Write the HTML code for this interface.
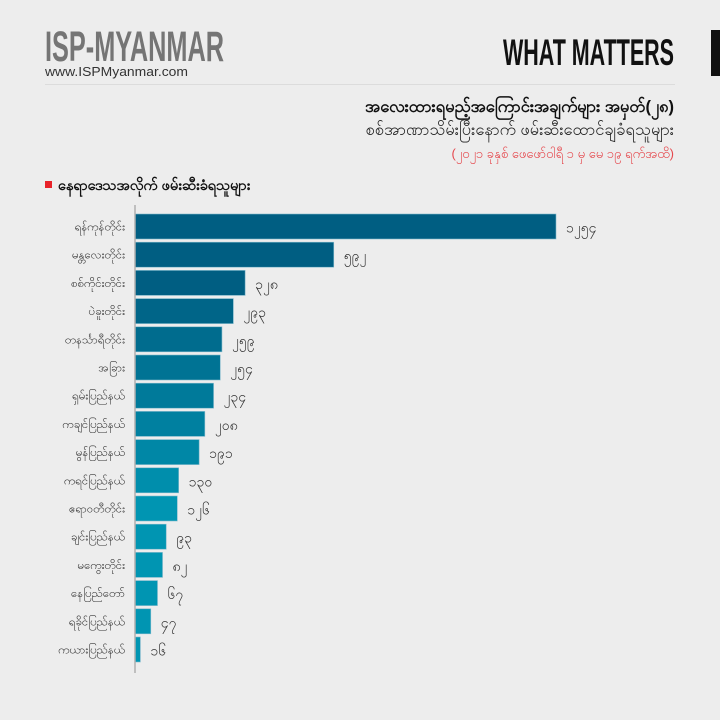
<!DOCTYPE html>
<html><head><meta charset="utf-8"><style>
body{margin:0;background:#ededed;}
svg{display:block;font-family:"Liberation Sans","Noto Sans CJK SC",sans-serif;}
</style></head><body>
<svg id="chart" width="720" height="720" viewBox="0 0 720 720">
<rect x="0" y="0" width="720" height="720" fill="#ededed"/>
<text x="45" y="61" font-size="43" font-weight="bold" fill="#757575" textLength="179" lengthAdjust="spacingAndGlyphs">ISP-MYANMAR</text>
<text x="45" y="76" font-size="13" fill="#333" textLength="143" lengthAdjust="spacingAndGlyphs">www.ISPMyanmar.com</text>
<text x="674" y="65" font-size="37" font-weight="bold" fill="#111" text-anchor="end" textLength="171" lengthAdjust="spacingAndGlyphs">WHAT MATTERS</text>
<rect x="711" y="30" width="9" height="46" fill="#111"/>
<line x1="45" y1="84.5" x2="675" y2="84.5" stroke="#dcdcdc" stroke-width="1"/>
<text x="674" y="112" font-size="16.5" font-weight="bold" fill="#111" text-anchor="end">အလေးထားရမည့်အကြောင်းအချက်များ အမှတ်(၂၈)</text>
<text x="674" y="135" font-size="16.5" fill="#222" text-anchor="end">စစ်အာဏာသိမ်းပြီးနောက် ဖမ်းဆီးထောင်ချခံရသူများ</text>
<text x="674" y="158" font-size="13" fill="#e5484d" text-anchor="end">(၂၀၂၁ ခုနှစ် ဖေဖော်ဝါရီ ၁ မှ မေ ၁၉ ရက်အထိ)</text>
<rect x="45" y="181" width="7" height="7" fill="#e8232a"/>
<text x="58" y="190" font-size="14.5" font-weight="bold" fill="#111">နေရာဒေသအလိုက် ဖမ်းဆီးခံရသူများ</text>
<g id="bars"></g>
<line x1="135" y1="205" x2="135" y2="673" stroke="#b0b0b0" stroke-width="1.5"/>
</svg>
<script>
const categories = ["ရန်ကုန်တိုင်း","မန္တလေးတိုင်း","စစ်ကိုင်းတိုင်း","ပဲခူးတိုင်း","တနင်္သာရီတိုင်း","အခြား","ရှမ်းပြည်နယ်","ကချင်ပြည်နယ်","မွန်ပြည်နယ်","ကရင်ပြည်နယ်","ဧရာဝတီတိုင်း","ချင်းပြည်နယ်","မကွေးတိုင်း","နေပြည်တော်","ရခိုင်ပြည်နယ်","ကယားပြည်နယ်"];
const values = [1254,592,328,293,259,254,234,208,191,130,126,93,82,67,47,16];
const NS="http://www.w3.org/2000/svg";
const x0=135, pxPer=421/1254, y0=214, step=28.2, bh=25;
function xScale(v){return v*pxPer;}
function yScale(i){return y0+i*step;}
function myNum(n){return String(n).replace(/[0-9]/g,d=>String.fromCharCode(0x1040+ +d));}
function mix(a,b,t){return Math.round(a+(b-a)*t);}
const g=document.getElementById('bars');
values.forEach((v,i)=>{
  const t=Math.max(0,(i-2)/8>1?1:(i-2)/8);
  const col=`rgb(${mix(0,0,t)},${mix(94,149,t)},${mix(130,178,t)})`;
  const r=document.createElementNS(NS,'rect');
  
  
  r.setAttribute('x',x0);r.setAttribute('y',yScale(i));
  r.setAttribute('width',xScale(v));r.setAttribute('height',bh);
  r.setAttribute('fill',col);r.setAttribute('stroke','#7fb9cc');r.setAttribute('stroke-width','0.6');
  g.appendChild(r);
  const l=document.createElementNS(NS,'text');
  
  
  l.setAttribute('x',125);l.setAttribute('y',yScale(i)+bh/2+4);
  l.setAttribute('text-anchor','end');l.setAttribute('font-size','11.5');l.setAttribute('fill','#333');
  l.textContent=categories[i];g.appendChild(l);
  const vl=document.createElementNS(NS,'text');
  
  
  vl.setAttribute('x',x0+xScale(v)+10);vl.setAttribute('y',yScale(i)+bh/2+6);
  vl.setAttribute('font-size','14');vl.setAttribute('fill','#333');
  vl.textContent=myNum(v);g.appendChild(vl);
});
</script>
</body></html>
